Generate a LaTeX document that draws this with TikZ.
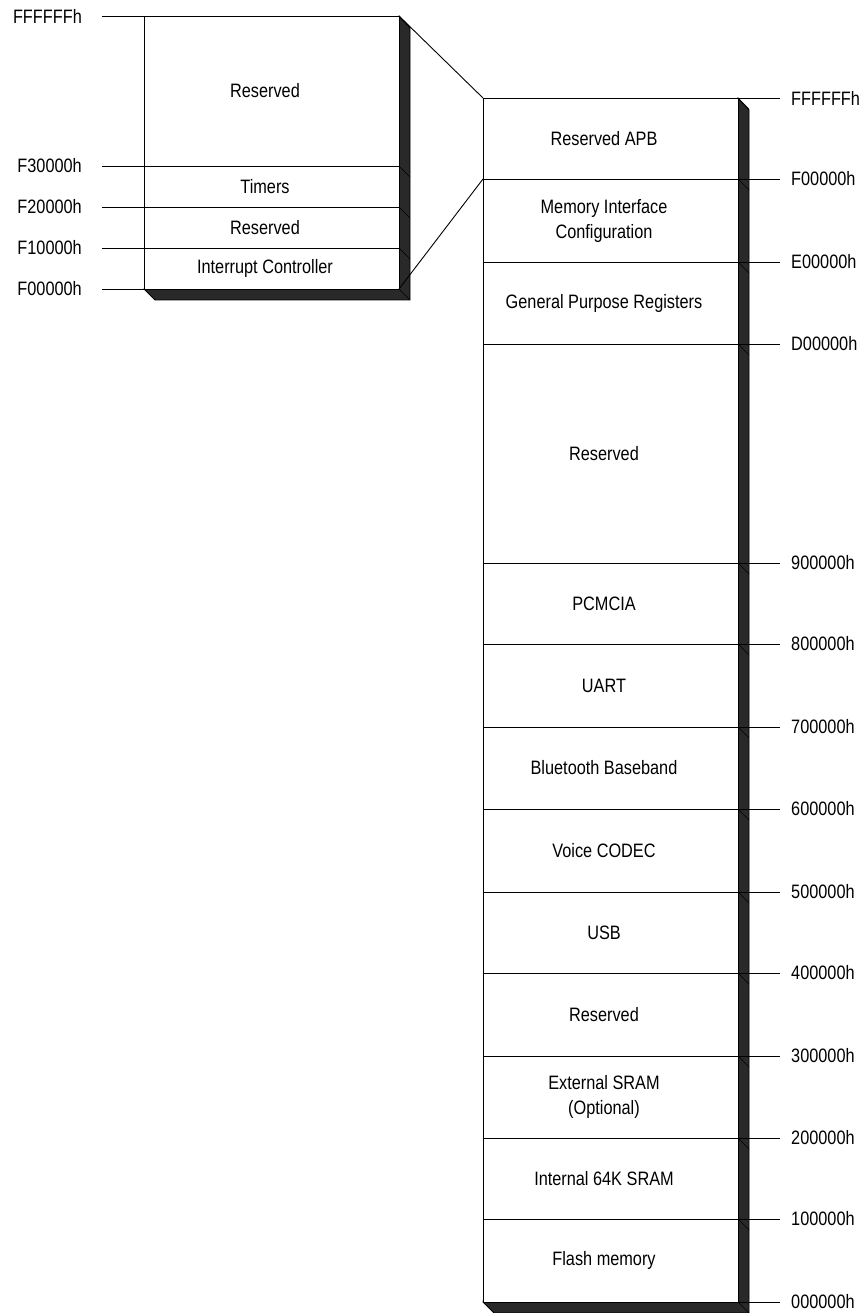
\documentclass[tikz,border=0pt]{standalone}
\usepackage{fontspec}
\setmainfont{Liberation Sans}[FakeStretch=0.84]
\begin{document}
\begin{tikzpicture}[x=1pt,y=-1pt]
    \tikzset{
        mapline/.style={line width=0.9pt},
        slab/.style={fill=black!84,draw=black,line width=0.9pt},
        region/.style={align=center,inner sep=0pt,font=\fontsize{19.4}{25}\selectfont},
        addr/.style={inner sep=0pt,font=\fontsize{19.4}{22}\selectfont},}
    \useasboundingbox (0,0) rectangle (863,1313);
    \def\dep{11}
    % APB peripheral block
    \def\lx{144}\def\rx{399}
    \filldraw[slab] (\rx,16) -- (\rx+\dep,16+\dep+1) -- (\rx+\dep,289+\dep) -- (\lx+\dep,289+\dep) -- (\lx,289) -- cycle;
    \draw[mapline,fill=white] (\lx,16) rectangle (\rx,289);
    \foreach \y/\a [count=\i] in {16/FFFFFFh,166/F30000h,207/F20000h,248/F10000h,289/F00000h}{
        \draw[mapline] (\lx,\y) -- (\rx,\y);
        \draw (\rx,\y) -- ++(\dep,\dep);
        \node[addr,anchor=east] (pa\i) at (82,\y) {\a};
        \draw[mapline] ([xshift=20pt]pa\i.east) -- (\lx,\y);
    }
    \foreach \t/\b/\txt [count=\i] in {16/166/Reserved,166/207/Timers,207/248/Reserved,248/289/Interrupt Controller}
        \node[region] (pr\i) at (265,{(\t+\b)/2}) {\txt};
    % full memory map
    \def\Lx{483}\def\Rx{738}
    \filldraw[slab] (\Rx,98) -- (\Rx+\dep,98+\dep+1) -- (\Rx+\dep,1302+\dep) -- (\Lx+\dep,1302+\dep) -- (\Lx,1302) -- cycle;
    \draw[mapline,fill=white] (\Lx,98) rectangle (\Rx,1302);
    \foreach \y/\a [count=\i] in {98/FFFFFFh,179/F00000h,262/E00000h,344/D00000h,563/900000h,644/800000h,727/700000h,
        809/600000h,892/500000h,973/400000h,1056/300000h,1138/200000h,1219/100000h,1302/000000h}{
        \draw[mapline] (\Lx,\y) -- (\Rx,\y);
        \draw (\Rx,\y) -- ++(\dep,\dep);
        \node[addr,anchor=west] (qa\i) at (791,\y) {\a};
        \draw[mapline] (\Rx,\y) -- ([xshift=-11pt]qa\i.west);
    }
    \foreach \t/\b/\txt [count=\i] in {98/179/Reserved APB,179/262/{Memory Interface\\Configuration},
        262/344/General Purpose Registers,344/563/Reserved,563/644/PCMCIA,644/727/UART,727/809/Bluetooth Baseband,
        809/892/Voice CODEC,892/973/USB,973/1056/Reserved,1056/1138/{External SRAM\\(Optional)},
        1138/1219/Internal 64K SRAM,1219/1302/Flash memory}
        \node[region] (qr\i) at (604,{(\t+\b)/2}) {\txt};
    % zoom lines
    \coordinate (ztop) at (\rx,16);
    \coordinate (zbot) at (\rx,289);
    \coordinate (mtop) at (\Lx,98);
    \coordinate (mapb) at (\Lx,179);
    \draw[mapline] (ztop) -- (mtop);
    \draw[mapline] (zbot) -- (mapb);
\end{tikzpicture}
\end{document}
